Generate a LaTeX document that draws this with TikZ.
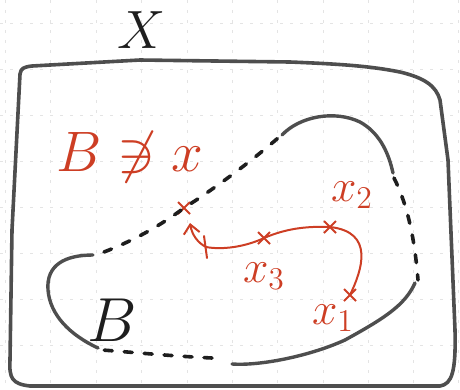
\documentclass[tikz,border=0pt]{standalone}
\usetikzlibrary{arrows.meta,shapes.misc}
\definecolor{ink}{RGB}{78,78,78}
\definecolor{darkink}{RGB}{30,30,30}
\definecolor{redink}{RGB}{205,62,36}
\definecolor{gridc}{RGB}{228,228,228}
\tikzset{
  gridline/.style={draw=gridc, line width=0.8pt, dash pattern=on 3pt off 7pt},
  outer/.style={draw=ink, line width=3.6pt, line cap=round, line join=round},
  blobsolid/.style={draw=ink, line width=3.4pt, line cap=round},
  blobdash/.style={draw=darkink, line width=3.6pt, line cap=round, dash pattern=on 8pt off 12pt},
  redpath/.style={draw=redink, line width=2pt, line cap=round},
  markx/.style={cross out, draw=redink, line width=2pt, minimum size=10pt, inner sep=0pt},
  redtxt/.style={text=redink, inner sep=0pt, font=\fontsize{20}{24}\selectfont, transform shape},
  blacktxt/.style={text=darkink, inner sep=0pt, font=\fontsize{20}{24}\selectfont, transform shape},
}
\begin{document}
\begin{tikzpicture}[x=1pt,y=-1pt]
\useasboundingbox (0,0) rectangle (460,389);
% paper grid
\foreach \gx in {5,50,96,141,187,232,277,323,368,413,458}
  \draw[gridline] (\gx,0) -- (\gx,389);
\foreach \gy in {23,69,115,161,207,253,299,345}
  \draw[gridline] (0,\gy) -- (460,\gy);
% the space X
\node[blacktxt, scale=2.6] (lX) at (142,30) {$X$};
\draw[outer] (20,74) .. controls (21,68) and (24,67) .. (32,66)
  -- (140,60) -- (290,62) .. controls (340,64) and (370,66) .. (400,72)
  .. controls (425,78) and (436,86) .. (440,100)
  -- (448,160) -- (455,330) .. controls (456,372) and (452,384) .. (440,386)
  -- (30,386) .. controls (12,384) and (9,378) .. (10,360)
  -- (12,230) -- (20,74) -- cycle;
% the set B
\draw[blobsolid] (282,135) .. controls (300,116) and (335,110) .. (360,122)
  .. controls (378,132) and (388,150) .. (393,173);
\draw[blobdash] (394,178) .. controls (405,200) and (414,230) .. (418,280);
\draw[blobsolid] (415,283) .. controls (405,305) and (385,318) .. (345,340)
  .. controls (310,356) and (260,366) .. (232,364);
\draw[blobdash] (212,358) .. controls (170,356) and (130,352) .. (102,350);
\draw[blobsolid] (98,348) .. controls (70,335) and (50,315) .. (48,290)
  .. controls (46,265) and (65,255) .. (93,255);
\coordinate (bstart) at (104,252);
\node[markx] (p0) at (184,208) {};
\draw[blobdash] (bstart) .. controls (140,238) and (165,222) .. (p0.center)
  .. controls (220,185) and (255,158) .. (278,138);
\node[blacktxt, scale=3] (lB) at (112,320) {$B$};
% red points and path
\node[redtxt, scale=2.75] (lBx) at (130,157) {$B \not\ni x$};
\node[markx] (p1) at (350,295) {};
\node[markx] (p2) at (330,227) {};
\node[markx] (p3) at (264,238) {};
\node[redtxt, scale=2.2] (l1) at (333,318) {$x_1$};
\node[redtxt, scale=2.2] (l2) at (352,195) {$x_2$};
\node[redtxt, scale=2.2] (l3) at (264,276) {$x_3$};
\coordinate (bend) at (206,247);
\coordinate (tip) at (190,223);
\draw[redpath] (p1.center) .. controls (362,270) and (375,232) .. (p2.center)
  .. controls (305,226) and (285,229) .. (p3.center)
  .. controls (245,247) and (222,250) .. (bend);
\draw[redpath, -{Straight Barb[length=9pt,width=16pt,line width=2pt]}] (bend) .. controls (198,243) and (192,235) .. (tip);
\coordinate (tickA) at (204,236);
\coordinate (tickB) at (207,258);
\draw[redpath] (tickA) -- (tickB);
\end{tikzpicture}
\end{document}
